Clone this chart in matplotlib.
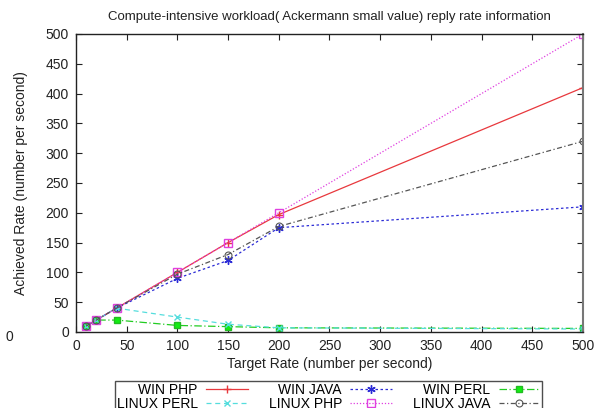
import matplotlib
matplotlib.use('Agg')
import matplotlib.pyplot as plt

plt.rcParams['font.family'] = ['Liberation Sans', 'DejaVu Sans']

target = [10, 20, 40, 100, 150, 200, 500]

win_php = [10, 20, 40, 100, 150, 197, 410]
win_java = [10, 20, 40, 90, 120, 175, 210]
win_perl = [10, 20, 20, 11, 9, 7, 6]
linux_perl = [10, 20, 40, 25, 13, 7, 5]
linux_php = [10, 20, 40, 100, 150, 200, 500]
linux_java = [10, 20, 40, 97, 130, 177, 320]

xticks = [0, 50, 100, 150, 200, 250, 300, 350, 400, 450, 500]
yticks = [0, 50, 100, 150, 200, 250, 300, 350, 400, 450, 500]

fig = plt.figure(figsize=(5.97, 4.08), dpi=100)
ax = fig.add_axes([0.1273, 0.1863, 0.8492, 0.7304])

h1, = ax.plot(target, win_php, color='#e8383d', ls='-', lw=0.9, marker='+', ms=6, mew=1)
h2, = ax.plot(target, win_java, color='#2b2bd6', ls=(0, (2, 2)), lw=0.9, marker=(6, 2, 0), ms=6, mew=1)
h3, = ax.plot(target, win_perl, color='#22cc22', ls=(0, (6, 2, 1, 2)), lw=0.9, marker='s', ms=5,
              mfc='#11ee11', mec='#22bb22')
h4, = ax.plot(target, linux_perl, color='#55dddd', ls=(0, (4, 3)), lw=0.9, marker='x', ms=5, mew=1)
h5, = ax.plot(target, linux_php, color='#e040e0', ls=(0, (1, 1.5)), lw=0.9, marker='s', ms=5.5,
              mfc='none', mew=1)
h6, = ax.plot(target, linux_java, color='#555555', ls=(0, (4, 2, 1, 2)), lw=0.9, marker='o', ms=5,
              mfc='none', mew=0.8)

ax.set_xlim(0, 500)
ax.set_ylim(0, 500)
ax.set_xticks(xticks)
ax.set_yticks(yticks)
ax.tick_params(direction='in', top=True, right=True, labelsize=10, length=4, pad=5, colors='#222222')
for s in ax.spines.values():
    s.set_color('#222222')
    s.set_linewidth(1)
ax.spines['right'].set_color('#777777')
ax.spines['right'].set_linewidth(1.5)

ax.set_title('Compute-intensive workload( Ackermann small value) reply rate information',
             fontsize=9.5, color='#222222', pad=10)
ax.set_xlabel('Target Rate (number per second)', fontsize=10, color='#222222', labelpad=3)
ax.set_ylabel('Achieved Rate (number per second)', fontsize=10, color='#222222', labelpad=13)

fig.text(0.01, 0.165, '0', fontsize=10, color='#222222')

leg = fig.legend([h1, h4, h2, h5, h3, h6],
                 ['WIN PHP', 'LINUX PERL', 'WIN JAVA', 'LINUX PHP', 'WIN PERL', 'LINUX JAVA'],
                 ncol=3, markerfirst=False, loc='upper left', bbox_to_anchor=(0.193, 0.065),
                 fontsize=10, frameon=True, fancybox=False, edgecolor='#222222',
                 borderpad=0.1, labelspacing=0.0, handlelength=3, handletextpad=0.6,
                 columnspacing=1.5, borderaxespad=0)
leg.get_frame().set_linewidth(1)

fig.savefig('out.png', dpi=100)
